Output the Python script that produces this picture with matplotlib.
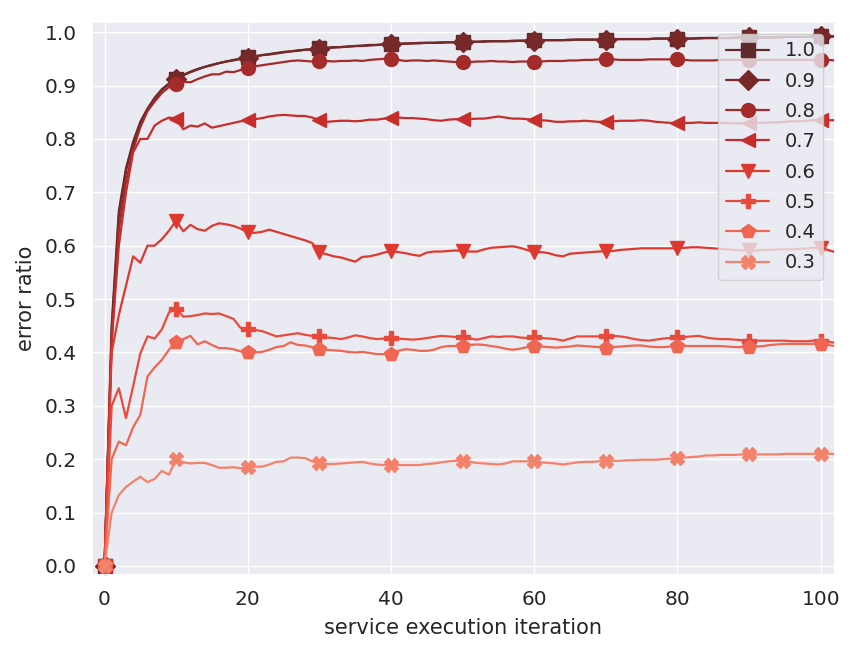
import matplotlib
matplotlib.use("Agg")
import matplotlib.pyplot as plt
import seaborn as sns
import numpy as np

sns.set_theme(style="darkgrid")
plt.rcParams['font.family'] = ['DejaVu Sans']

iterations = list(range(0, 103))

s10 = [0.0, 0.45, 0.665, 0.745, 0.795, 0.832, 0.857, 0.877, 0.893, 0.904,
       0.913, 0.920, 0.926, 0.931, 0.935, 0.939, 0.942, 0.945, 0.948, 0.950,
       0.953, 0.955, 0.957, 0.959, 0.961, 0.963, 0.964, 0.966, 0.967, 0.968,
       0.970, 0.971, 0.972, 0.972, 0.973, 0.974, 0.975, 0.976, 0.976, 0.977,
       0.978, 0.978, 0.979, 0.979, 0.980, 0.980, 0.980, 0.981, 0.981, 0.981,
       0.982, 0.982, 0.982, 0.983, 0.983, 0.983, 0.983, 0.984, 0.984, 0.984,
       0.985, 0.985, 0.985, 0.985, 0.985, 0.986, 0.986, 0.986, 0.986, 0.986,
       0.986, 0.987, 0.987, 0.987, 0.987, 0.987, 0.987, 0.988, 0.988, 0.988,
       0.988, 0.988, 0.988, 0.989, 0.989, 0.989, 0.989, 0.989, 0.990, 0.990,
       0.990, 0.990, 0.990, 0.990, 0.991, 0.991, 0.991, 0.991, 0.991, 0.992,
       0.992, 0.992, 0.992]

s09 = [0.0, 0.44, 0.655, 0.740, 0.790, 0.828, 0.854, 0.875, 0.891, 0.903,
       0.912, 0.919, 0.925, 0.930, 0.935, 0.938, 0.942, 0.945, 0.947, 0.950,
       0.952, 0.954, 0.957, 0.958, 0.960, 0.962, 0.964, 0.965, 0.967, 0.968,
       0.969, 0.970, 0.971, 0.972, 0.973, 0.974, 0.974, 0.975, 0.976, 0.977,
       0.977, 0.978, 0.978, 0.979, 0.979, 0.980, 0.980, 0.980, 0.981, 0.981,
       0.981, 0.982, 0.982, 0.982, 0.983, 0.983, 0.983, 0.983, 0.984, 0.984,
       0.984, 0.985, 0.985, 0.985, 0.985, 0.985, 0.986, 0.986, 0.986, 0.986,
       0.986, 0.986, 0.987, 0.987, 0.987, 0.987, 0.987, 0.988, 0.988, 0.988,
       0.988, 0.988, 0.988, 0.988, 0.989, 0.989, 0.989, 0.989, 0.989, 0.990,
       0.990, 0.990, 0.990, 0.990, 0.990, 0.991, 0.991, 0.991, 0.991, 0.991,
       0.992, 0.992, 0.992]

s08 = [0.0, 0.42, 0.63, 0.72, 0.78, 0.822, 0.852, 0.870, 0.886, 0.897,
       0.902, 0.907, 0.906, 0.912, 0.917, 0.921, 0.921, 0.926, 0.925, 0.929,
       0.933, 0.936, 0.938, 0.940, 0.942, 0.944, 0.946, 0.947, 0.946, 0.945,
       0.946, 0.946, 0.945, 0.946, 0.946, 0.947, 0.946, 0.948, 0.949, 0.950,
       0.950, 0.948, 0.946, 0.947, 0.947, 0.946, 0.947, 0.946, 0.945, 0.944,
       0.944, 0.944, 0.945, 0.945, 0.946, 0.945, 0.945, 0.944, 0.945, 0.945,
       0.945, 0.945, 0.946, 0.946, 0.946, 0.947, 0.947, 0.948, 0.948, 0.949,
       0.949, 0.949, 0.948, 0.948, 0.948, 0.948, 0.949, 0.949, 0.949, 0.949,
       0.949, 0.948, 0.947, 0.947, 0.947, 0.947, 0.948, 0.948, 0.948, 0.948,
       0.948, 0.948, 0.948, 0.948, 0.948, 0.948, 0.948, 0.948, 0.948, 0.948,
       0.948, 0.948, 0.947]

s07 = [0.0, 0.42, 0.60, 0.70, 0.775, 0.800, 0.800, 0.825, 0.834, 0.840,
       0.838, 0.818, 0.825, 0.823, 0.829, 0.821, 0.824, 0.827, 0.830, 0.833,
       0.835, 0.837, 0.839, 0.842, 0.844, 0.845, 0.844, 0.843, 0.843, 0.840,
       0.835, 0.832, 0.833, 0.834, 0.834, 0.833, 0.834, 0.836, 0.836, 0.838,
       0.840, 0.840, 0.839, 0.839, 0.838, 0.837, 0.835, 0.834, 0.836, 0.837,
       0.837, 0.837, 0.838, 0.838, 0.840, 0.842, 0.840, 0.838, 0.838, 0.837,
       0.836, 0.835, 0.834, 0.832, 0.832, 0.833, 0.833, 0.834, 0.833, 0.832,
       0.832, 0.833, 0.834, 0.834, 0.834, 0.835, 0.834, 0.832, 0.831, 0.830,
       0.829, 0.830, 0.830, 0.831, 0.830, 0.830, 0.830, 0.830, 0.829, 0.829,
       0.829, 0.830, 0.830, 0.831, 0.831, 0.832, 0.833, 0.833, 0.834, 0.835,
       0.835, 0.835, 0.835]

s06 = [0.0, 0.40, 0.47, 0.525, 0.58, 0.568, 0.60, 0.60, 0.612, 0.628,
       0.647, 0.627, 0.639, 0.631, 0.628, 0.637, 0.642, 0.640, 0.637, 0.632,
       0.625, 0.624, 0.626, 0.630, 0.626, 0.622, 0.618, 0.614, 0.610, 0.605,
       0.588, 0.584, 0.580, 0.578, 0.574, 0.570, 0.579, 0.580, 0.583, 0.587,
       0.590, 0.588, 0.586, 0.583, 0.581, 0.587, 0.589, 0.589, 0.590, 0.591,
       0.590, 0.589, 0.589, 0.593, 0.596, 0.597, 0.598, 0.599, 0.596, 0.592,
       0.588, 0.588, 0.586, 0.582, 0.580, 0.585, 0.586, 0.587, 0.588, 0.589,
       0.590, 0.590, 0.592, 0.593, 0.594, 0.595, 0.595, 0.595, 0.595, 0.595,
       0.595, 0.596, 0.597, 0.597, 0.596, 0.595, 0.594, 0.593, 0.592, 0.591,
       0.591, 0.591, 0.592, 0.592, 0.593, 0.593, 0.593, 0.594, 0.595, 0.596,
       0.596, 0.592, 0.588]

s05 = [0.0, 0.30, 0.333, 0.277, 0.337, 0.398, 0.430, 0.426, 0.443, 0.475,
       0.482, 0.467, 0.468, 0.470, 0.473, 0.472, 0.473, 0.468, 0.463, 0.446,
       0.443, 0.442, 0.440, 0.435, 0.430, 0.432, 0.434, 0.436, 0.433, 0.431,
       0.430, 0.428, 0.427, 0.425, 0.428, 0.432, 0.430, 0.427, 0.425, 0.426,
       0.427, 0.426, 0.425, 0.424, 0.425, 0.427, 0.429, 0.431, 0.430, 0.429,
       0.428, 0.426, 0.424, 0.427, 0.430, 0.429, 0.430, 0.430, 0.428, 0.427,
       0.428, 0.427, 0.426, 0.425, 0.422, 0.426, 0.430, 0.430, 0.430, 0.430,
       0.431, 0.431, 0.430, 0.428, 0.425, 0.423, 0.422, 0.424, 0.426, 0.427,
       0.428, 0.429, 0.430, 0.431, 0.428, 0.426, 0.425, 0.425, 0.424, 0.423,
       0.422, 0.422, 0.422, 0.422, 0.422, 0.422, 0.421, 0.421, 0.421, 0.422,
       0.422, 0.420, 0.418]

s04 = [0.0, 0.20, 0.233, 0.226, 0.26, 0.283, 0.355, 0.372, 0.386, 0.405,
       0.420, 0.425, 0.431, 0.415, 0.421, 0.414, 0.408, 0.408, 0.406, 0.402,
       0.400, 0.400, 0.401, 0.405, 0.410, 0.412, 0.419, 0.414, 0.413, 0.410,
       0.406, 0.405, 0.404, 0.403, 0.401, 0.400, 0.401, 0.399, 0.397, 0.397,
       0.397, 0.403, 0.406, 0.405, 0.403, 0.403, 0.405, 0.410, 0.412, 0.412,
       0.412, 0.414, 0.415, 0.414, 0.412, 0.410, 0.407, 0.405, 0.407, 0.410,
       0.412, 0.411, 0.410, 0.409, 0.410, 0.411, 0.413, 0.412, 0.411, 0.410,
       0.409, 0.410, 0.411, 0.412, 0.413, 0.413, 0.411, 0.410, 0.410, 0.411,
       0.412, 0.412, 0.412, 0.412, 0.412, 0.412, 0.412, 0.411, 0.410, 0.410,
       0.410, 0.411, 0.412, 0.414, 0.415, 0.416, 0.416, 0.416, 0.416, 0.416,
       0.416, 0.414, 0.412]

s03 = [0.0, 0.10, 0.133, 0.148, 0.158, 0.167, 0.157, 0.163, 0.178, 0.171,
       0.200, 0.194, 0.192, 0.193, 0.193, 0.189, 0.184, 0.184, 0.185, 0.183,
       0.185, 0.186, 0.186, 0.190, 0.195, 0.196, 0.203, 0.203, 0.202, 0.196,
       0.192, 0.191, 0.191, 0.192, 0.193, 0.194, 0.195, 0.192, 0.190, 0.189,
       0.189, 0.189, 0.189, 0.189, 0.189, 0.191, 0.192, 0.194, 0.196, 0.197,
       0.197, 0.195, 0.193, 0.192, 0.191, 0.190, 0.192, 0.196, 0.196, 0.196,
       0.196, 0.194, 0.193, 0.192, 0.190, 0.192, 0.194, 0.195, 0.195, 0.196,
       0.196, 0.197, 0.197, 0.198, 0.198, 0.199, 0.199, 0.199, 0.200, 0.201,
       0.202, 0.203, 0.204, 0.205, 0.207, 0.207, 0.208, 0.208, 0.208, 0.209,
       0.209, 0.209, 0.209, 0.209, 0.209, 0.210, 0.210, 0.210, 0.210, 0.210,
       0.210, 0.210, 0.210]

labels = ["1.0", "0.9", "0.8", "0.7", "0.6", "0.5", "0.4", "0.3"]
series = [s10, s09, s08, s07, s06, s05, s04, s03]
markers = ["s", "D", "o", "<", "v", "P", "p", "X"]
colors = ["#5e2a2a", "#77292a", "#a32b29", "#c62e2b", "#dd392f",
          "#e84b3c", "#ef6652", "#f4816a"]

fig = plt.figure(figsize=(8.58, 6.55), dpi=100)
ax = fig.add_axes([0.1072, 0.1221, 0.866, 0.8443])

for lab, ys, mk, c in zip(labels, series, markers, colors):
    ax.plot(iterations, ys, color=c, marker=mk, markevery=10,
            markersize=10, linewidth=1.6, label=lab)

ax.set_xlim(-1.75, 102.0)
ax.set_ylim(-0.017, 1.019)
ax.set_xticks([0, 20, 40, 60, 80, 100])
ax.set_yticks(np.arange(0, 1.01, 0.1))
ax.set_yticklabels([f"{v:.1f}" for v in np.arange(0, 1.01, 0.1)])
ax.tick_params(labelsize=14.5, pad=5)
ax.set_xlabel("service execution iteration", fontsize=15, labelpad=6)
ax.set_ylabel("error ratio", fontsize=15, labelpad=6)
ax.legend(loc="upper right", fontsize=14, framealpha=0.8,
          labelspacing=0.58, handlelength=2.2, borderaxespad=0.6)

fig.savefig("out.png", dpi=100)
